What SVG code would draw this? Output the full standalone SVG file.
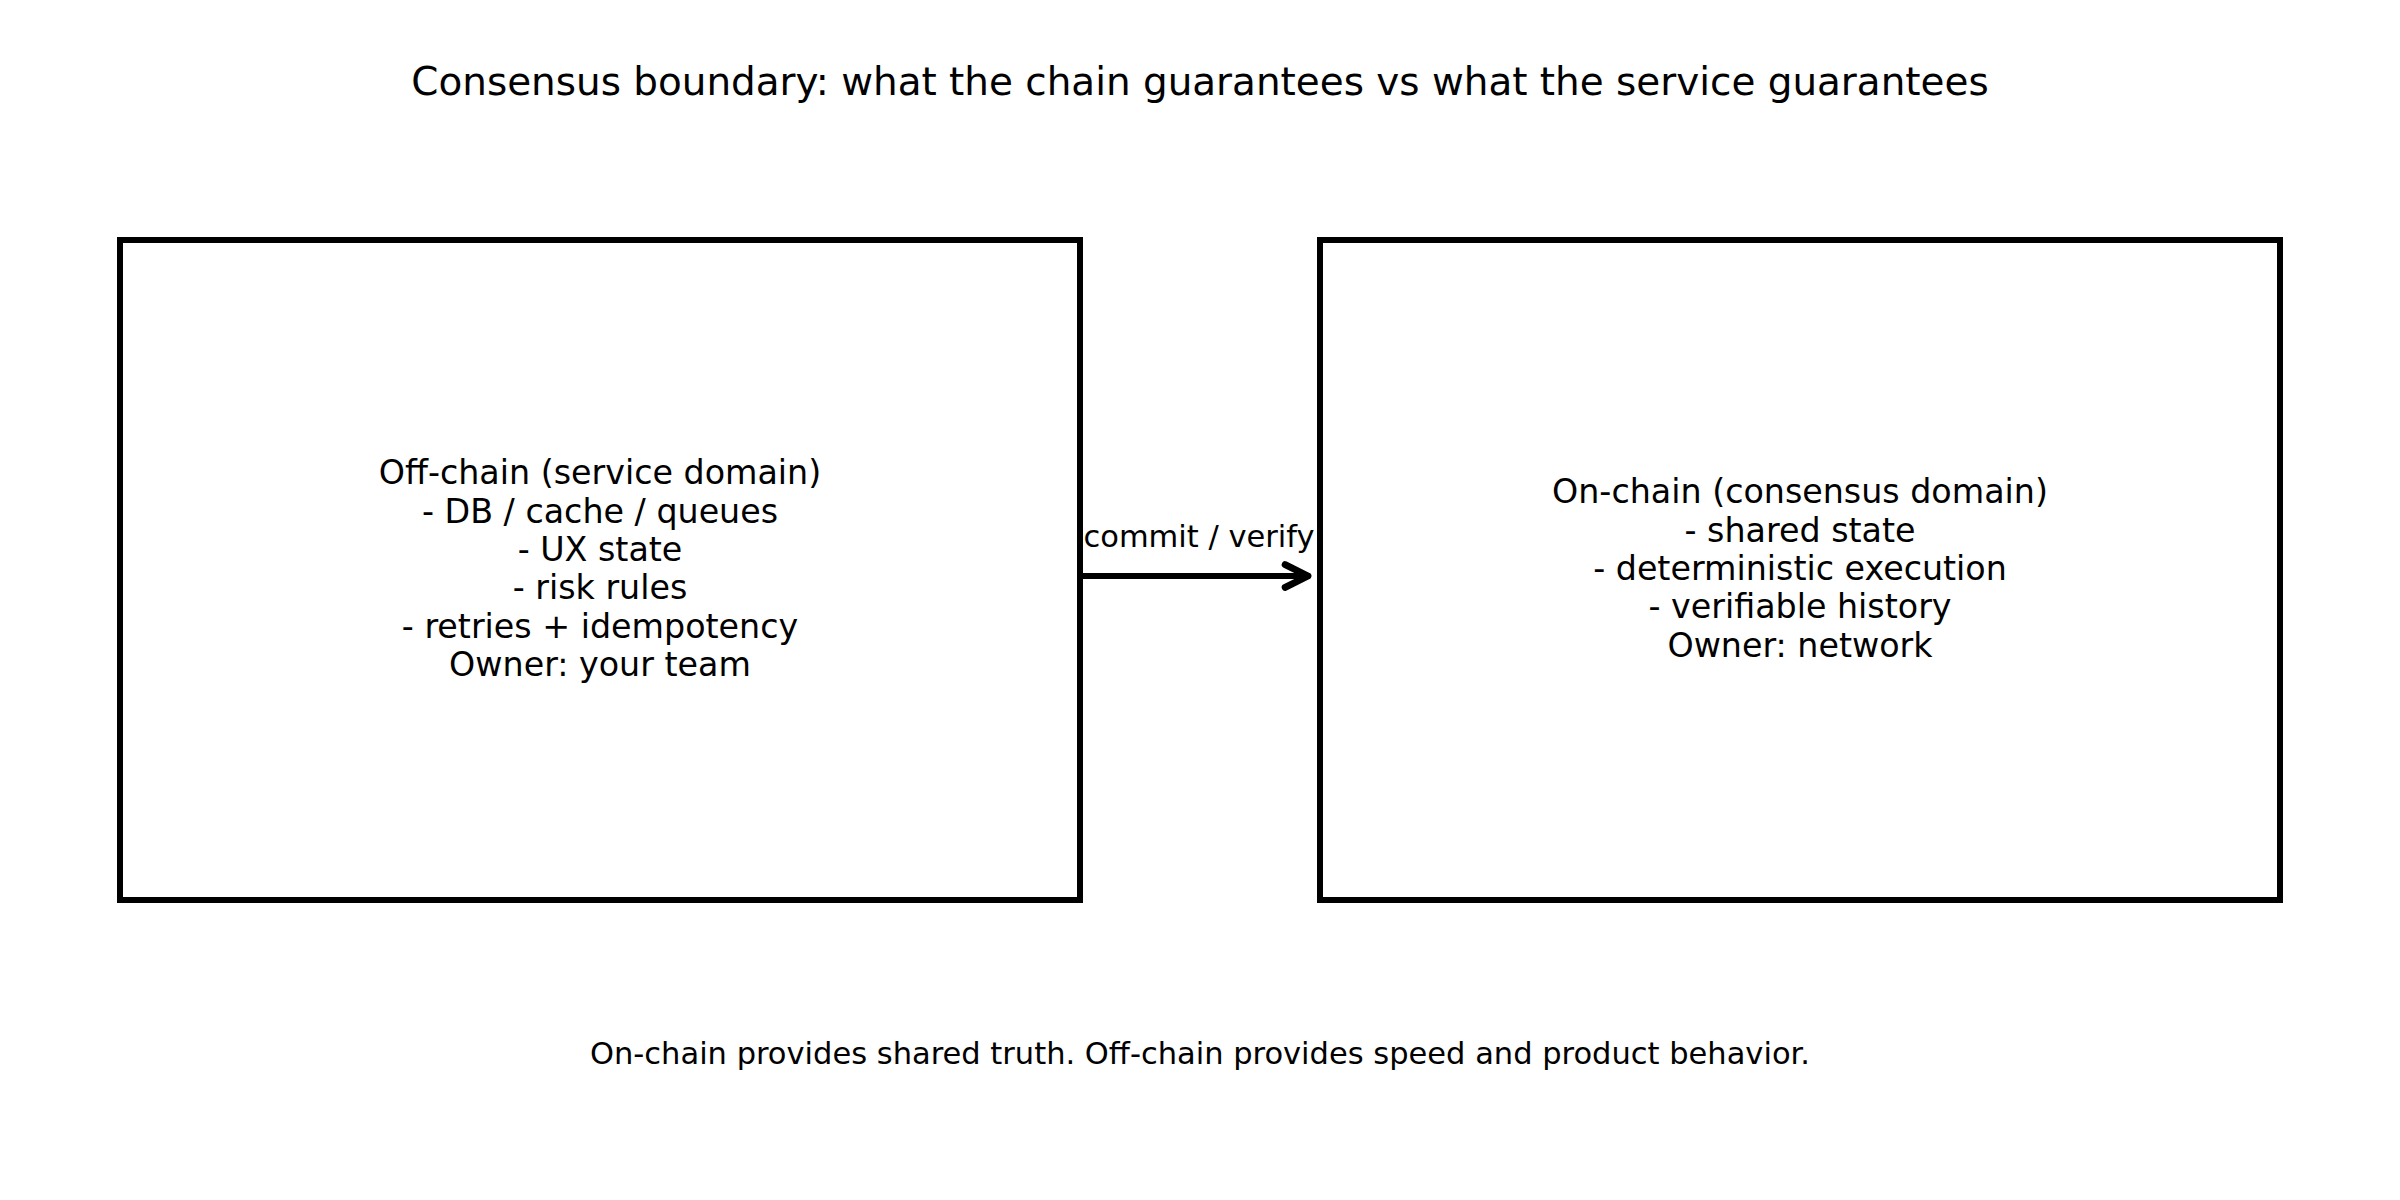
<svg xmlns="http://www.w3.org/2000/svg" width="2400" height="1200" viewBox="0 0 2400 1200">
  <defs>
    <style>
      .box { fill: #ffffff; stroke: #000000; stroke-width: 6; }
      .t { font-family: "DejaVu Sans", "Liberation Sans", sans-serif; fill: #000000; text-anchor: middle; }
      .title { font-size: 38.9px; }
      .body { font-size: 33.3px; }
      .small { font-size: 30.5px; }
      .conn { fill: none; stroke: #000000; stroke-width: 6; stroke-linecap: round; }
    </style>
    <marker id="arrow" markerUnits="userSpaceOnUse" markerWidth="40" markerHeight="40" viewBox="-30 -15 35 30" refX="0" refY="0" orient="auto">
      <path d="M-20,-10 L0,0 L-20,10" fill="none" stroke="#000000" stroke-width="6" stroke-linecap="round" stroke-linejoin="round"/>
    </marker>
  </defs>
  <rect width="2400" height="1200" fill="#ffffff"/>

  <text class="t title" x="1200" y="95">Consensus boundary: what the chain guarantees vs what the service guarantees</text>

  <g id="offchain">
    <rect class="box" x="120" y="240" width="960" height="660"/>
    <text class="t body" x="600" y="484.3">Off-chain (service domain)</text>
    <text class="t body" x="600" y="522.6">- DB / cache / queues</text>
    <text class="t body" x="600" y="560.9">- UX state</text>
    <text class="t body" x="600" y="599.2">- risk rules</text>
    <text class="t body" x="600" y="637.5">- retries + idempotency</text>
    <text class="t body" x="600" y="675.8">Owner: your team</text>
  </g>

  <g id="onchain">
    <rect class="box" x="1320" y="240" width="960" height="660"/>
    <text class="t body" x="1800" y="503.3">On-chain (consensus domain)</text>
    <text class="t body" x="1800" y="541.6">- shared state</text>
    <text class="t body" x="1800" y="579.9">- deterministic execution</text>
    <text class="t body" x="1800" y="618.2">- verifiable history</text>
    <text class="t body" x="1800" y="656.5">Owner: network</text>
  </g>

  <g id="connectors">
    <line class="conn" x1="1083" y1="576" x2="1308" y2="576" marker-end="url(#arrow)"/>
    <text class="t small" x="1199" y="547">commit / verify</text>
  </g>

  <text class="t small" x="1200" y="1064">On-chain provides shared truth. Off-chain provides speed and product behavior.</text>
</svg>
